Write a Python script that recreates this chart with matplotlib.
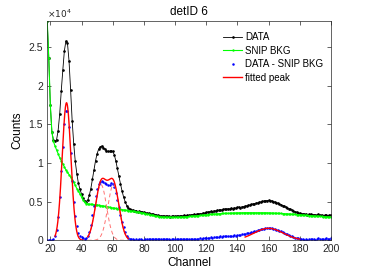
import numpy as np
import matplotlib
matplotlib.use('Agg')
import matplotlib.pyplot as plt

# channels 18..200, counts in units of 1e4
channels = np.arange(18, 201)

data_counts = [
    2.84, 2.36, 1.75, 1.40, 1.30, 1.28, 1.30, 1.42, 1.63, 1.93,
    2.20, 2.45, 2.58, 2.55, 2.32, 1.95, 1.55, 1.25, 1.02, 0.86,
    0.74, 0.66, 0.60, 0.55, 0.51, 0.50, 0.52, 0.58, 0.67, 0.79,
    0.91, 1.03, 1.12, 1.18, 1.21, 1.22, 1.20, 1.18, 1.16, 1.15,
    1.15, 1.16, 1.15, 1.11, 1.03, 0.93, 0.83, 0.73, 0.64, 0.56,
    0.50, 0.45, 0.42, 0.40, 0.39, 0.392, 0.38, 0.385, 0.37, 0.374,
    0.370, 0.364, 0.360, 0.358, 0.352, 0.348, 0.344, 0.341, 0.334, 0.332,
    0.326, 0.322, 0.320, 0.314, 0.317, 0.310, 0.312, 0.308, 0.313, 0.307,
    0.311, 0.314, 0.309, 0.315, 0.310, 0.314, 0.318, 0.316, 0.321, 0.319,
    0.325, 0.323, 0.329, 0.328, 0.334, 0.330, 0.340, 0.338, 0.346, 0.344,
    0.354, 0.352, 0.360, 0.366, 0.364, 0.374, 0.372, 0.382, 0.381, 0.389,
    0.386, 0.396, 0.393, 0.400, 0.405, 0.400, 0.409, 0.407, 0.415, 0.411,
    0.420, 0.416, 0.425, 0.429, 0.424, 0.434, 0.437, 0.443, 0.447, 0.454,
    0.458, 0.464, 0.470, 0.474, 0.482, 0.485, 0.493, 0.497, 0.503, 0.506,
    0.512, 0.514, 0.517, 0.510, 0.513, 0.502, 0.497, 0.488, 0.481, 0.470,
    0.463, 0.450, 0.443, 0.430, 0.422, 0.409, 0.402, 0.390, 0.382, 0.371,
    0.365, 0.356, 0.350, 0.342, 0.345, 0.335, 0.339, 0.330, 0.334, 0.338,
    0.329, 0.333, 0.324, 0.328, 0.335, 0.323, 0.328, 0.318, 0.323, 0.330,
    0.318, 0.323, 0.328,
]

snip_bkg = [
    2.84, 2.36, 1.75, 1.40, 1.28, 1.22, 1.17, 1.12, 1.07, 1.03,
    0.99, 0.95, 0.91, 0.88, 0.85, 0.82, 0.78, 0.75, 0.71, 0.67,
    0.64, 0.60, 0.56, 0.52, 0.49, 0.475, 0.470, 0.468, 0.466, 0.464,
    0.462, 0.460, 0.457, 0.454, 0.450, 0.447, 0.443, 0.440, 0.436, 0.432,
    0.428, 0.424, 0.420, 0.416, 0.412, 0.408, 0.404, 0.400, 0.397, 0.394,
    0.391, 0.388, 0.385, 0.382, 0.379, 0.376, 0.373, 0.370, 0.366, 0.362,
    0.358, 0.354, 0.350, 0.345, 0.340, 0.335, 0.330, 0.325, 0.321, 0.317,
    0.313, 0.309, 0.305, 0.303, 0.301, 0.299, 0.298, 0.297, 0.297, 0.297,
    0.297, 0.297, 0.297, 0.298, 0.298, 0.299, 0.299, 0.300, 0.302, 0.304,
    0.306, 0.308, 0.310, 0.312, 0.314, 0.316, 0.318, 0.320, 0.322, 0.324,
    0.326, 0.328, 0.330, 0.332, 0.334, 0.336, 0.338, 0.340, 0.341, 0.343,
    0.344, 0.346, 0.347, 0.348, 0.349, 0.350, 0.351, 0.352, 0.353, 0.353,
    0.354, 0.354, 0.355, 0.355, 0.356, 0.356, 0.357, 0.357, 0.357, 0.358,
    0.358, 0.358, 0.358, 0.358, 0.358, 0.357, 0.357, 0.357, 0.357, 0.356,
    0.356, 0.356, 0.355, 0.354, 0.353, 0.352, 0.351, 0.350, 0.349, 0.348,
    0.347, 0.346, 0.345, 0.344, 0.342, 0.341, 0.340, 0.338, 0.336, 0.335,
    0.333, 0.332, 0.330, 0.328, 0.327, 0.325, 0.323, 0.322, 0.320, 0.318,
    0.317, 0.315, 0.314, 0.312, 0.311, 0.309, 0.308, 0.306, 0.305, 0.304,
    0.302, 0.301, 0.300,
]

# fitted gaussian peaks: (range start, range end, centres, sigmas, amplitudes)
peak_ranges = [(23, 41), (44, 70), (145, 180)]
peak_centres = [[30.4], [52.5, 60.5], [160.0]]
peak_sigmas = [[2.8], [3.6, 3.6], [9.3]]
peak_amps = [[1.78], [0.72, 0.72], [0.155]]

data = np.array(data_counts) * 1e4
bkg = np.array(snip_bkg) * 1e4
diff = data - bkg

plt.rcParams['font.family'] = ['Liberation Sans', 'DejaVu Sans']

fig = plt.figure(figsize=(3.66, 2.74), dpi=100)
ax = fig.add_axes([0.129, 0.123, 0.775, 0.801])

ax.plot(channels, data, '.-', color='k', lw=0.6, ms=1.8, label='DATA')
ax.plot(channels, bkg, '.-', color=(0, 1, 0), lw=0.8, ms=1.4, label='SNIP BKG')
ax.plot(channels, diff, '.', color='b', ms=1.6, label='DATA - SNIP BKG')

first = True
for (x0, x1), cs, ss, aa in zip(peak_ranges, peak_centres, peak_sigmas, peak_amps):
    xx = np.linspace(x0, x1, 200)
    total = np.zeros_like(xx)
    comps = []
    for c, s, a in zip(cs, ss, aa):
        g = a * 1e4 * np.exp(-(xx - c) ** 2 / (2 * s ** 2))
        comps.append(g)
        total += g
    if len(comps) > 1:
        for g in comps:
            ax.plot(xx, g, '--', color=(1, 0.45, 0.45), lw=0.7, dashes=(4, 3))
    ax.plot(xx, total, '-', color='r', lw=1.0, label='fitted peak' if first else None)
    first = False

ax.set_xlim(18, 200)
ax.set_ylim(0, max(data))
ax.set_xticks(np.arange(20, 201, 20))
yt = np.arange(0, 2.51, 0.5)
ax.set_yticks(yt * 1e4)
ax.set_yticklabels(['%g' % v for v in yt])
ax.tick_params(direction='in', length=3, width=0.5, labelsize=7.5, colors='#262626',
               top=True, right=True, pad=3)
for sp in ax.spines.values():
    sp.set_linewidth(0.5)
    sp.set_color('#262626')

ax.text(0.0, 1.005, r'$\times10^4$', transform=ax.transAxes, fontsize=6.5,
        color='#262626', va='bottom', ha='left')
ax.set_title('detID 6', fontsize=8.5, pad=4)
ax.set_xlabel('Channel', fontsize=8.5, labelpad=2)
ax.set_ylabel('Counts', fontsize=8.5, labelpad=4)

leg = ax.legend(loc='upper right', frameon=False, fontsize=7, handlelength=2.0,
                handletextpad=0.3, labelspacing=0.35, borderaxespad=0.8,
                bbox_to_anchor=(1.015, 1.0), markerscale=1.0)

fig.savefig('out.png', dpi=100)
